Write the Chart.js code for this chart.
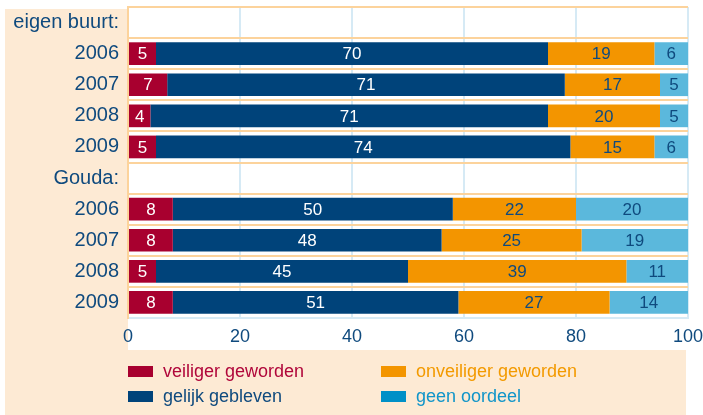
<!DOCTYPE html>
<html>
<head>
<meta charset="utf-8">
<script src="https://cdn.jsdelivr.net/npm/chart.js@4.4.0/dist/chart.umd.min.js"></script>
<style>
  body { margin: 0; background: #fff; }
  #wrap { position: relative; width: 703px; height: 415px; }
  #legend {
    position: absolute; left: 128px; top: 359px;
    display: grid; grid-template-columns: 253px 270px; grid-template-rows: 25px 25px;
    grid-auto-flow: column;
    font: 18px "Liberation Sans", Arial, sans-serif;
  }
  .item { display: flex; align-items: center; white-space: nowrap; }
  .sw { width: 25px; height: 11px; margin-right: 10px; }
</style>
</head>
<body>
<div id="wrap">
  <canvas id="chart" width="703" height="415"></canvas>
  <div id="legend"></div>
</div>
<script>
// rows: two group headers without data, then the years
const categories = ['eigen buurt:', '2006', '2007', '2008', '2009', 'Gouda:', '2006', '2007', '2008', '2009'];
const seriesNames = ['veiliger geworden', 'gelijk gebleven', 'onveiliger geworden', 'geen oordeel'];
const veiliger   = [null, 5, 7, 4, 5, null, 8, 8, 5, 8];
const gelijk     = [null, 70, 71, 71, 74, null, 50, 48, 45, 51];
const onveiliger = [null, 19, 17, 20, 15, null, 22, 25, 39, 27];
const geenOordeel = [null, 6, 5, 5, 6, null, 20, 19, 11, 14];
const xTicks = [0, 20, 40, 60, 80, 100];

const barColors = ['#a8002f', '#00437a', '#f39500', '#5bb8dc'];
const valueColors = ['#ffffff', '#ffffff', '#0f4a7e', '#0f4a7e'];
const swatchColors = ['#a8002f', '#00437a', '#f39500', '#0090c7'];
const legendTextColors = ['#b0063a', '#0f4a7e', '#f39a00', '#1195c9'];

const PEACH = '#fdead4';
const ORANGE_LINE = '#fcd39c';
const BLUE_LINE = '#d6eaf5';
const TEXT = '#0f4a7e';
const FONT = '"Liberation Sans", Arial, Helvetica, sans-serif';

Chart.defaults.font.family = FONT;

const panels = {
  id: 'panels',
  beforeDraw(chart) {
    const { ctx, chartArea: a } = chart;
    ctx.save();
    ctx.fillStyle = PEACH;
    ctx.fillRect(5, a.top + 2, a.left - 5, chart.height - a.top - 2);
    ctx.fillRect(a.left, 350, 686 - a.left, chart.height - 350);
    ctx.restore();
  }
};

const valueLabels = {
  id: 'valueLabels',
  afterDatasetsDraw(chart) {
    const ctx = chart.ctx;
    ctx.save();
    ctx.font = '17px ' + FONT;
    ctx.textAlign = 'center';
    ctx.textBaseline = 'middle';
    chart.data.datasets.forEach((ds, i) => {
      chart.getDatasetMeta(i).data.forEach((bar, j) => {
        const v = ds.data[j];
        if (v == null) return;
        ctx.fillStyle = valueColors[i];
        ctx.fillText(String(v), (bar.x + bar.base) / 2, bar.y + 1);
      });
    });
    ctx.restore();
  }
};

const allSeries = [veiliger, gelijk, onveiliger, geenOordeel];

new Chart(document.getElementById('chart'), {
  type: 'bar',
  data: {
    labels: categories,
    datasets: allSeries.map((d, i) => ({
      label: seriesNames[i],
      data: d,
      backgroundColor: barColors[i],
      borderWidth: 0,
      barPercentage: 0.73,
      categoryPercentage: 1
    }))
  },
  options: {
    indexAxis: 'y',
    responsive: false,
    animation: false,
    layout: { padding: { top: 7, right: 15, bottom: 0, left: 0 } },
    plugins: { legend: { display: false }, tooltip: { enabled: false } },
    scales: {
      x: {
        stacked: true,
        min: 0, max: 100,
        afterFit(scale) {
          scale.height = 97;
          scale.paddingLeft = 0;
          scale.paddingRight = 0;
        },
        afterBuildTicks(scale) { scale.ticks = xTicks.map(v => ({ value: v })); },
        grid: {
          color: ctx => ctx.index === 0 ? 'rgba(0,0,0,0)' : BLUE_LINE,
          lineWidth: 2,
          drawTicks: false
        },
        border: { color: BLUE_LINE, width: 2 },
        ticks: { color: TEXT, font: { size: 18 }, padding: 8 }
      },
      y: {
        stacked: true,
        afterFit(scale) {
          scale.width = 128;
          scale.paddingTop = 0;
          scale.paddingBottom = 0;
        },
        grid: {
          color: ctx => ctx.index === undefined ? 'rgba(0,0,0,0)' : ORANGE_LINE,
          lineWidth: 2,
          drawTicks: false
        },
        border: { color: ORANGE_LINE, width: 2 },
        ticks: { color: TEXT, font: { size: 20 }, padding: 9, autoSkip: false }
      }
    }
  },
  plugins: [panels, valueLabels]
});

// legend as html, two columns
const legend = document.getElementById('legend');
seriesNames.forEach((name, i) => {
  const item = document.createElement('div');
  item.className = 'item';
  item.innerHTML = '<span class="sw" style="background:' + swatchColors[i] + '"></span>' +
    '<span style="color:' + legendTextColors[i] + '">' + name + '</span>';
  legend.appendChild(item);
});
</script>
</body>
</html>
